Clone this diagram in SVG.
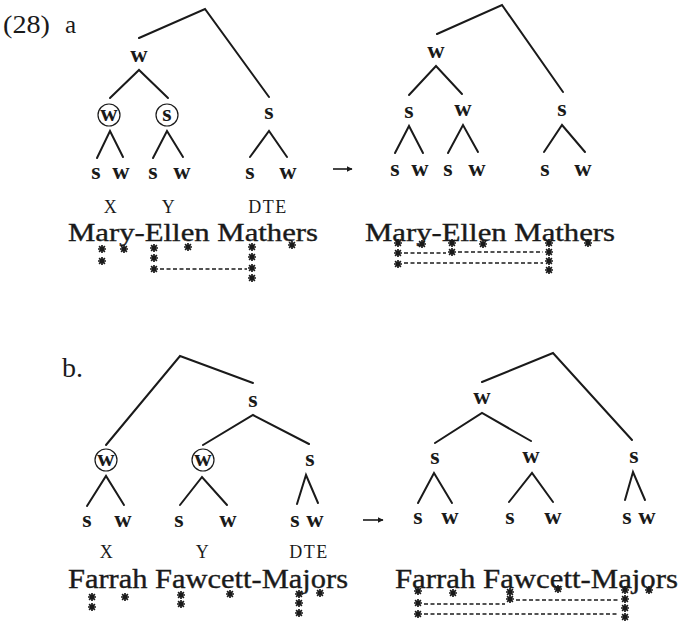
<svg xmlns="http://www.w3.org/2000/svg" xmlns:xlink="http://www.w3.org/1999/xlink" width="680" height="626" viewBox="0 0 680 626">
<style>
  .br { fill: none; stroke: #1a1a1a; stroke-width: 2; stroke-linecap: round; stroke-linejoin: miter; }
  .n { font-family: "Liberation Serif", "DejaVu Serif", serif; font-size: 24px; font-weight: bold; fill: #1a1a1a; text-anchor: middle; }
  .lab { font-family: "Liberation Serif", "DejaVu Serif", serif; font-size: 18px; letter-spacing: 1.5px; fill: #1a1a1a; text-anchor: middle; }
  .ex { font-family: "Liberation Serif", "DejaVu Serif", serif; fill: #1a1a1a; }
  .name { font-family: "Liberation Serif", "DejaVu Serif", serif; fill: #1a1a1a; stroke: #1a1a1a; stroke-width: 0.35; }
  .ring { fill: none; stroke: #1a1a1a; stroke-width: 1.2; }
  .dash { fill: none; stroke: #1a1a1a; stroke-width: 1.6; stroke-dasharray: 4 2.5; }
  .arr { fill: none; stroke: #1a1a1a; stroke-width: 1.6; }
</style>
<defs>
  <g id="ast">
    <circle r="2.2" fill="#1a1a1a"/>
    <path d="M-4 0H4M0 -4V4M-2.9 -2.9L2.9 2.9M-2.9 2.9L2.9 -2.9" stroke="#1a1a1a" stroke-width="1.7"/>
  </g>
  <marker id="head" viewBox="0 0 10 10" refX="9" refY="5" markerWidth="6" markerHeight="6" markerUnits="userSpaceOnUse" orient="auto">
    <path d="M0 0L10 5L0 10Z" fill="#1a1a1a"/>
  </marker>
</defs>
<rect width="680" height="626" fill="#ffffff"/>

<!-- example labels -->
<g id="ex-labels">
  <text class="ex" x="3" y="33" font-size="25" textLength="47" lengthAdjust="spacingAndGlyphs">(28)</text>
  <text class="ex" x="65" y="33" font-size="25">a</text>
  <text class="ex" x="62" y="377" font-size="28">b.</text>
</g>

<!-- rewrite arrows -->
<g id="arrows">
  <line class="arr" x1="333" y1="169" x2="352" y2="169" marker-end="url(#head)"/>
  <line class="arr" x1="363" y1="520" x2="383" y2="520" marker-end="url(#head)"/>
</g>

<!-- tree branches -->
<g id="connectors">
  <!-- (a) before -->
  <polyline class="br" points="139,38 205,9 269,97"/>
  <polyline class="br" points="110,98 139,70 168,98"/>
  <polyline class="br" points="97,158 110,131 123,157"/>
  <polyline class="br" points="153,158 167,131 183,157"/>
  <polyline class="br" points="250,157 269,131 287,157"/>
  <!-- (a) after -->
  <polyline class="br" points="437,34 502,5 563,92"/>
  <polyline class="br" points="409,95 436,66 462,94"/>
  <polyline class="br" points="395,153 409,126 423,153"/>
  <polyline class="br" points="448,153 463,125 478,152"/>
  <polyline class="br" points="544,152 562,125 585,152"/>
  <!-- (b) before -->
  <polyline class="br" points="106,445 180,356 253,383"/>
  <polyline class="br" points="203,445 253,415 309,444"/>
  <polyline class="br" points="87,506 106,476 124,505"/>
  <polyline class="br" points="180,505 202,477 227,505"/>
  <polyline class="br" points="297,504 306,475 318,503"/>
  <!-- (b) after -->
  <polyline class="br" points="482,382 553,353 632,440"/>
  <polyline class="br" points="435,443 482,413 531,441"/>
  <polyline class="br" points="418,503 434,473 452,503"/>
  <polyline class="br" points="509,502 532,473 553,502"/>
  <polyline class="br" points="625,500 633,472 645,500"/>
</g>

<!-- (a) before: nodes -->
<g id="a1-w"><text class="n" x="139" y="62">w</text></g>
<g id="a1-cw"><circle class="ring" cx="109" cy="115" r="11"/><text class="n" x="109" y="120.5">w</text></g>
<g id="a1-cs"><circle class="ring" cx="167" cy="115" r="11"/><text class="n" x="167" y="120.5">s</text></g>
<g id="a1-s"><text class="n" x="269" y="119">s</text></g>
<g id="a1-leaves">
  <text class="n" x="96" y="179">s</text><text class="n" x="121" y="179">w</text>
  <text class="n" x="153" y="179">s</text><text class="n" x="182" y="179">w</text>
  <text class="n" x="250" y="179">s</text><text class="n" x="288" y="179">w</text>
</g>
<g id="a1-tags">
  <text class="lab" x="111" y="213">X</text>
  <text class="lab" x="169" y="213">Y</text>
  <text class="lab" x="268" y="213">DTE</text>
</g>
<g id="a1-text"><text class="name" x="68" y="241" font-size="25" textLength="250" lengthAdjust="spacingAndGlyphs">Mary-Ellen Mathers</text></g>
<g id="a1-grid">
  <use href="#ast" x="102" y="249"/><use href="#ast" x="102" y="261"/>
  <use href="#ast" x="124" y="249"/>
  <use href="#ast" x="154" y="248"/><use href="#ast" x="154" y="258"/><use href="#ast" x="154" y="269"/>
  <use href="#ast" x="188" y="247"/>
  <use href="#ast" x="252" y="247"/><use href="#ast" x="252" y="257"/><use href="#ast" x="252" y="268"/><use href="#ast" x="252" y="278"/>
  <use href="#ast" x="292" y="245"/>
  <line class="dash" x1="160" y1="269" x2="247" y2="269"/>
</g>

<!-- (a) after: nodes -->
<g id="a2-w"><text class="n" x="436" y="58">w</text></g>
<g id="a2-s1"><text class="n" x="409" y="118">s</text></g>
<g id="a2-w1"><text class="n" x="463" y="116">w</text></g>
<g id="a2-s"><text class="n" x="562" y="116">s</text></g>
<g id="a2-leaves">
  <text class="n" x="395" y="176">s</text><text class="n" x="420" y="176">w</text>
  <text class="n" x="448" y="176">s</text><text class="n" x="477" y="176">w</text>
  <text class="n" x="545" y="176">s</text><text class="n" x="583" y="176">w</text>
</g>
<g id="a2-text"><text class="name" x="365" y="241" font-size="25" textLength="250" lengthAdjust="spacingAndGlyphs">Mary-Ellen Mathers</text></g>
<g id="a2-grid">
  <use href="#ast" x="398" y="243"/><use href="#ast" x="398" y="253"/><use href="#ast" x="398" y="264"/>
  <use href="#ast" x="422" y="244"/>
  <use href="#ast" x="452" y="243"/><use href="#ast" x="452" y="252"/>
  <use href="#ast" x="483" y="244"/>
  <use href="#ast" x="549" y="243"/><use href="#ast" x="549" y="252"/><use href="#ast" x="549" y="261"/><use href="#ast" x="549" y="270"/>
  <use href="#ast" x="588" y="243"/>
  <line class="dash" x1="404" y1="253" x2="446" y2="253"/>
  <line class="dash" x1="458" y1="252" x2="543" y2="252"/>
  <line class="dash" x1="404" y1="263" x2="543" y2="263"/>
</g>

<!-- (b) before: nodes -->
<g id="b1-s"><text class="n" x="253" y="407">s</text></g>
<g id="b1-cw1"><circle class="ring" cx="106" cy="460" r="11"/><text class="n" x="106" y="465.5">w</text></g>
<g id="b1-cw2"><circle class="ring" cx="203" cy="460" r="11"/><text class="n" x="203" y="465.5">w</text></g>
<g id="b1-s2"><text class="n" x="310" y="466">s</text></g>
<g id="b1-leaves">
  <text class="n" x="87" y="527">s</text><text class="n" x="123" y="527">w</text>
  <text class="n" x="179" y="527">s</text><text class="n" x="228" y="527">w</text>
  <text class="n" x="295" y="527">s</text><text class="n" x="315" y="527">w</text>
</g>
<g id="b1-tags">
  <text class="lab" x="107" y="558">X</text>
  <text class="lab" x="203" y="558">Y</text>
  <text class="lab" x="309" y="558">DTE</text>
</g>
<g id="b1-text"><text class="name" x="68" y="588" font-size="27" textLength="280" lengthAdjust="spacingAndGlyphs">Farrah Fawcett-Majors</text></g>
<g id="b1-grid">
  <use href="#ast" x="92" y="597"/><use href="#ast" x="92" y="607"/>
  <use href="#ast" x="125" y="597"/>
  <use href="#ast" x="181" y="595"/><use href="#ast" x="181" y="604"/>
  <use href="#ast" x="230" y="594"/>
  <use href="#ast" x="299" y="594"/><use href="#ast" x="299" y="603"/><use href="#ast" x="299" y="613"/>
  <use href="#ast" x="320" y="593"/>
</g>

<!-- (b) after: nodes -->
<g id="b2-w"><text class="n" x="482" y="404">w</text></g>
<g id="b2-s1"><text class="n" x="435" y="464">s</text></g>
<g id="b2-w1"><text class="n" x="531" y="463">w</text></g>
<g id="b2-s"><text class="n" x="634" y="463">s</text></g>
<g id="b2-leaves">
  <text class="n" x="418" y="524">s</text><text class="n" x="450" y="524">w</text>
  <text class="n" x="510" y="524">s</text><text class="n" x="553" y="524">w</text>
  <text class="n" x="627" y="524">s</text><text class="n" x="647" y="524">w</text>
</g>
<g id="b2-text"><text class="name" x="395" y="588" font-size="27" textLength="283" lengthAdjust="spacingAndGlyphs">Farrah Fawcett-Majors</text></g>
<g id="b2-grid">
  <use href="#ast" x="418" y="591"/><use href="#ast" x="418" y="603"/><use href="#ast" x="418" y="614"/>
  <use href="#ast" x="453" y="593"/>
  <use href="#ast" x="510" y="592"/><use href="#ast" x="510" y="599"/>
  <use href="#ast" x="558" y="589"/>
  <use href="#ast" x="625" y="590"/><use href="#ast" x="625" y="599"/><use href="#ast" x="625" y="608"/><use href="#ast" x="625" y="617"/>
  <use href="#ast" x="649" y="590"/>
  <line class="dash" x1="424" y1="604" x2="505" y2="604"/>
  <line class="dash" x1="516" y1="600" x2="619" y2="600"/>
  <line class="dash" x1="424" y1="614" x2="619" y2="614"/>
</g>
</svg>
